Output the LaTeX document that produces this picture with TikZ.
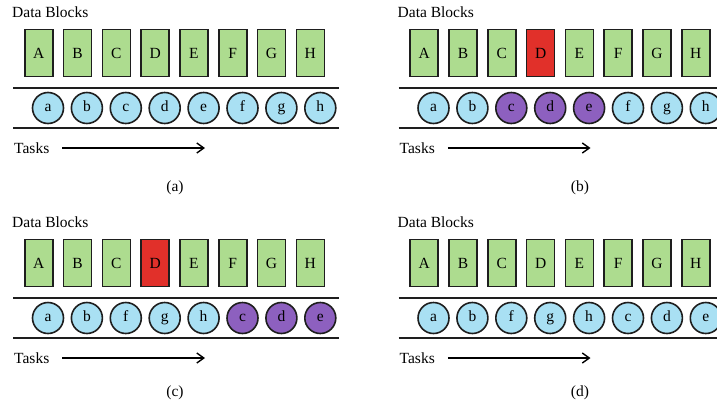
\documentclass[tikz,border=0pt]{standalone}
\usepackage{fontspec}
\setmainfont{Liberation Serif}
\usetikzlibrary{arrows.meta}
\definecolor{blkgreen}{HTML}{ADDC8F}
\definecolor{blkred}{HTML}{E1302A}
\definecolor{taskblue}{HTML}{A9E0F3}
\definecolor{taskpurple}{HTML}{8D60BF}
\definecolor{edge}{HTML}{1E1E1E}
\tikzset{
  lbl/.style={inner sep=0pt, font=\fontsize{15.5}{17}\selectfont},
  blk/.style={draw=edge, line width=1.6pt, fill=blkgreen, minimum width=28pt,
    minimum height=47pt, inner sep=0pt, font=\fontsize{15.5}{17}\selectfont},
  blkbad/.style={blk, fill=blkred},
  tsk/.style={circle, draw=edge, line width=1.6pt, fill=taskblue, minimum size=31pt,
    inner sep=0pt, text height=1.4ex, text depth=0pt, font=\fontsize{15.5}{17}\selectfont},
  tskmove/.style={tsk, fill=taskpurple},
  rail/.style={draw=edge, line width=1.6pt},
  flow/.style={draw=black, line width=1.4pt, -{Straight Barb[length=7pt,width=10pt,line width=1.4pt]}},
}
\newcommand\mypanel[5]{% #1 id, #2 dx, #3 dy, #4 blocks list, #5 tasks list
  \begin{scope}[shift={(#2,#3)}]
    \node[lbl, anchor=west] (db#1) at (12,12) {Data Blocks};
    \foreach \L/\s [count=\i] in {#4} {
      \node[\s] (blk#1\i) at ({38.7+38.8*(\i-1)},53) {\L};
    }
    \foreach \L/\s [count=\i] in {#5} {
      \node[\s] (tsk#1\i) at ({48+38.9*(\i-1)},108) {\L};
    }
    \coordinate (rtl#1) at (13,88);
    \coordinate (rtr#1) at (339,88);
    \coordinate (rbl#1) at (13,128);
    \coordinate (rbr#1) at (339,128);
    \draw[rail] (rtl#1) -- (rtr#1);
    \draw[rail] (rbl#1) -- (rbr#1);
    \node[lbl, anchor=west] (tasks#1) at (14,148) {Tasks};
    \coordinate (arr#1) at (205,148);
    \draw[flow] ([xshift=13pt]tasks#1.east) -- (arr#1);
  \end{scope}
}
\begin{document}
\begin{tikzpicture}[x=1pt,y=-1pt]
  \useasboundingbox (0,0) rectangle (717,402);
  \clip (0,0) rectangle (717,402);
  \mypanel{a}{0}{0}{A/blk,B/blk,C/blk,D/blk,E/blk,F/blk,G/blk,H/blk}{a/tsk,b/tsk,c/tsk,d/tsk,e/tsk,f/tsk,g/tsk,h/tsk}
  \mypanel{b}{385.5}{0}{A/blk,B/blk,C/blk,D/blkbad,E/blk,F/blk,G/blk,H/blk}{a/tsk,b/tsk,c/tskmove,d/tskmove,e/tskmove,f/tsk,g/tsk,h/tsk}
  \mypanel{c}{0}{210}{A/blk,B/blk,C/blk,D/blkbad,E/blk,F/blk,G/blk,H/blk}{a/tsk,b/tsk,f/tsk,g/tsk,h/tsk,c/tskmove,d/tskmove,e/tskmove}
  \mypanel{d}{385.5}{210}{A/blk,B/blk,C/blk,D/blk,E/blk,F/blk,G/blk,H/blk}{a/tsk,b/tsk,f/tsk,g/tsk,h/tsk,c/tsk,d/tsk,e/tsk}
  \node[lbl] (capa) at (175,188) {(a)};
  \node[lbl] (capb) at (580,188) {(b)};
  \node[lbl] (capc) at (175,393) {(c)};
  \node[lbl] (capd) at (580,393) {(d)};
\end{tikzpicture}
\end{document}
